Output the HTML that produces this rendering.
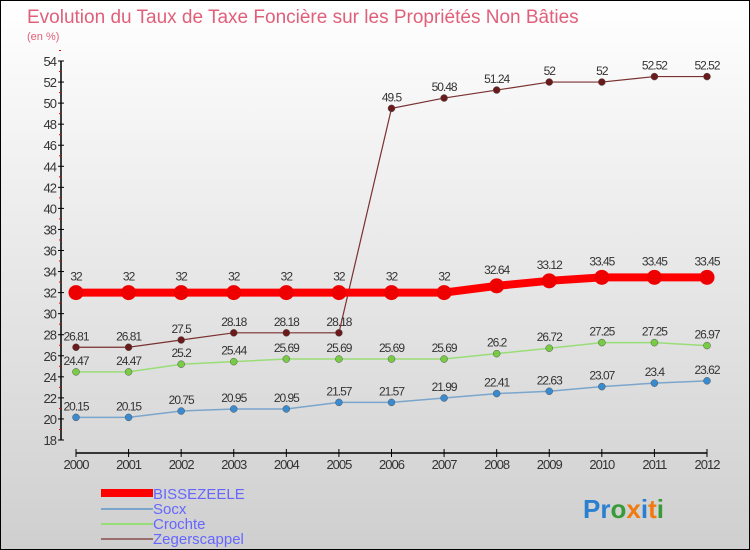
<!DOCTYPE html>
<html><head><meta charset="utf-8"><style>
body{margin:0}
#c{width:750px;height:550px;position:relative;box-sizing:border-box;border:1px solid #000;background:linear-gradient(#ffffff,#cfcfcf);font-family:"Liberation Sans",sans-serif;overflow:hidden}
</style></head><body>
<div id="c">
<svg id="s" width="748" height="548" style="position:absolute;left:0;top:0">
<text x="26" y="22" font-size="19" fill="#e0607a">Evolution du Taux de Taxe Foncière sur les Propriétés Non Bâties</text>
<text x="26" y="39" font-size="11" fill="#e0607a">(en %)</text>
<g id="g"></g>
<g font-size="15" fill="#6666ff">
<rect x="100" y="488" width="52" height="8" fill="#f00"/>
<text x="152" y="498">BISSEZEELE</text>
<rect x="100" y="507" width="52" height="2" fill="#7aa6cc"/>
<text x="152" y="513">Socx</text>
<rect x="100" y="522" width="52" height="2" fill="#99dd77"/>
<text x="152" y="528">Crochte</text>
<rect x="100" y="537" width="52" height="2" fill="#9a6e6e"/>
<text x="152" y="543">Zegerscappel</text>
</g>
<g font-size="26" font-weight="bold">
<text x="582" y="517"><tspan fill="#2a7fd0">Pr</tspan><tspan fill="#3a9a3a">o</tspan><tspan fill="#f07a10">x</tspan><tspan fill="#2a7fd0">i</tspan><tspan fill="#f07a10">t</tspan><tspan fill="#3a9a3a">i</tspan></text>
</g>
</svg>
</div>
<script>
const years=[2000,2001,2002,2003,2004,2005,2006,2007,2008,2009,2010,2011,2012];
const bissezeele=[32,32,32,32,32,32,32,32,32.64,33.12,33.45,33.45,33.45];
const socx=[20.15,20.15,20.75,20.95,20.95,21.57,21.57,21.99,22.41,22.63,23.07,23.4,23.62];
const crochte=[24.47,24.47,25.2,25.44,25.69,25.69,25.69,25.69,26.2,26.72,27.25,27.25,26.97];
const zeger=[26.81,26.81,27.5,28.18,28.18,28.18,49.5,50.48,51.24,52,52,52.52,52.52];
const yTicks=[18,20,22,24,26,28,30,32,34,36,38,40,42,44,46,48,50,52,54];
const NS="http://www.w3.org/2000/svg";
const g=document.getElementById('g');
const X=i=>75+i*(631/12);
const Y=v=>439-(v-18)*(379/36);
function mk(t,a){const e=document.createElementNS(NS,t);for(const k in a)e.setAttribute(k,a[k]);g.appendChild(e);return e;}
let e=mk('line',{x1:60,y1:Y(54),x2:60,y2:Y(18),stroke:'#000','stroke-width':1.5});


yTicks.forEach(v=>{
 mk('line',{x1:57,x2:63,y1:Y(v),y2:Y(v),stroke:'#000'});
 mk('line',{x1:58,x2:60,y1:Y(v+1),y2:Y(v+1),stroke:'#e00'});
 const t=mk('text',{x:55,y:Y(v)+5,'text-anchor':'end','font-size':13,fill:'#333','letter-spacing':'-1'});
 t.textContent=v;
 
 
});
e=mk('line',{x1:X(0),x2:X(12),y1:452,y2:452,stroke:'#000','stroke-width':1.5});


years.forEach((y,i)=>{
 mk('line',{x1:X(i),x2:X(i),y1:448,y2:456,stroke:'#000'});
 const t=mk('text',{x:X(i),y:468,'text-anchor':'middle','font-size':13,fill:'#333','letter-spacing':'-1'});
 t.textContent=y;
 
 
});
function series(d,name,col,dot,w,r,fs){
 const p=mk('polyline',{points:d.map((v,i)=>X(i)+','+Y(v)).join(' '),fill:'none',stroke:col,'stroke-width':w});
 
 
 d.forEach((v,i)=>{
  const c=mk('circle',{cx:X(i),cy:Y(v),r:r,fill:dot,stroke:w>3?'none':'#555','stroke-width':0.5});
  
  
  const t=mk('text',{x:X(i),y:Y(v)-(w>3?12:7),'text-anchor':'middle','font-size':fs,fill:'#333','letter-spacing':'-1'});
  t.textContent=v;
  
  
 });
}
series(socx,'socx','#7aa6cc','#3a8ad0',1.5,3.5,12);
series(crochte,'crochte','#99dd77','#77cc44',1.5,3.5,12);
series(zeger,'zegerscappel','#7a3030','#6a1a1a',1.2,3.5,12);
series(bissezeele,'bissezeele','#f00','#e00',8,7.5,12);
</script>
</body></html>
